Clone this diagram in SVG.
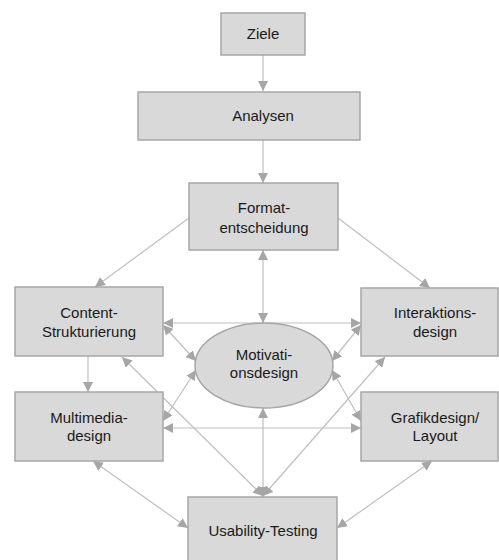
<svg xmlns="http://www.w3.org/2000/svg" width="499" height="560" viewBox="0 0 499 560">
<style>
.box{fill:#d9d9d9;stroke:#a6a6a6;stroke-width:1.5}
.t{font-family:"Liberation Sans",Arial,sans-serif;font-size:15px;fill:#1a1a1a;text-anchor:middle}
.c{stroke:#bfbfbf;stroke-width:1.2;fill:none}
.e{marker-end:url(#ah)}
.b{marker-start:url(#ah);marker-end:url(#ah)}
</style>
<defs>
<marker id="ah" viewBox="0 0 10 10" refX="10" refY="5" markerWidth="10" markerHeight="10" markerUnits="userSpaceOnUse" orient="auto-start-reverse">
<path d="M0,0 L10,5 L0,10 z" fill="#a6a6a6"/>
</marker>
</defs>
<rect width="499" height="560" fill="#fff"/>
<g id="connectors">
<line class="c e" x1="263" y1="55" x2="263" y2="91"/>
<line class="c e" x1="263" y1="140" x2="263" y2="183"/>
<line class="c b" x1="263" y1="250" x2="263" y2="323"/>
<line class="c e" x1="189" y1="218" x2="95" y2="287"/>
<line class="c e" x1="338" y1="218" x2="430" y2="288"/>
<line class="c e" x1="88" y1="356" x2="88" y2="392"/>
<line class="c b" x1="163" y1="323" x2="361" y2="323"/>
<line class="c b" x1="163" y1="428" x2="361" y2="428"/>
<line class="c b" x1="163" y1="325" x2="196" y2="361"/>
<line class="c b" x1="163" y1="421" x2="196" y2="370"/>
<line class="c b" x1="361" y1="325" x2="332" y2="361"/>
<line class="c b" x1="361" y1="421" x2="332" y2="370"/>
<line class="c b" x1="122" y1="357" x2="263" y2="496"/>
<line class="c b" x1="385" y1="357" x2="263" y2="496"/>
<line class="c b" x1="263" y1="408" x2="263" y2="497"/>
<line class="c b" x1="93" y1="461" x2="188" y2="528"/>
<line class="c b" x1="432" y1="461" x2="337" y2="528"/>
</g>
<g id="ziele"><rect class="box" x="221" y="13" width="84" height="42"/><text class="t" x="263" y="39">Ziele</text></g>
<g id="analysen"><rect class="box" x="138" y="92" width="222" height="48"/><text class="t" x="263" y="121">Analysen</text></g>
<g id="format"><rect class="box" x="189" y="183" width="149" height="67"/><text class="t" x="264" y="213">Format-</text><text class="t" x="264" y="233">entscheidung</text></g>
<g id="content"><rect class="box" x="15" y="287" width="148" height="69"/><text class="t" x="89" y="318">Content-</text><text class="t" x="89" y="337">Strukturierung</text></g>
<g id="interaktion"><rect class="box" x="361" y="288" width="137" height="68"/><text class="t" x="435" y="318">Interaktions-</text><text class="t" x="435" y="337">design</text></g>
<g id="motivation"><ellipse cx="264" cy="365.5" rx="69" ry="42.5" fill="#d9d9d9" stroke="#a6a6a6" stroke-width="1.5"/><text class="t" x="264" y="360">Motivati-</text><text class="t" x="264" y="378">onsdesign</text></g>
<g id="multimedia"><rect class="box" x="15" y="392" width="148" height="69"/><text class="t" x="89" y="423">Multimedia-</text><text class="t" x="89" y="441">design</text></g>
<g id="grafik"><rect class="box" x="361" y="392" width="137" height="69"/><text class="t" x="435" y="423">Grafikdesign/</text><text class="t" x="435" y="441">Layout</text></g>
<g id="usability"><rect class="box" x="188" y="497" width="149" height="70"/><text class="t" x="263" y="536">Usability-Testing</text></g>
</svg>
